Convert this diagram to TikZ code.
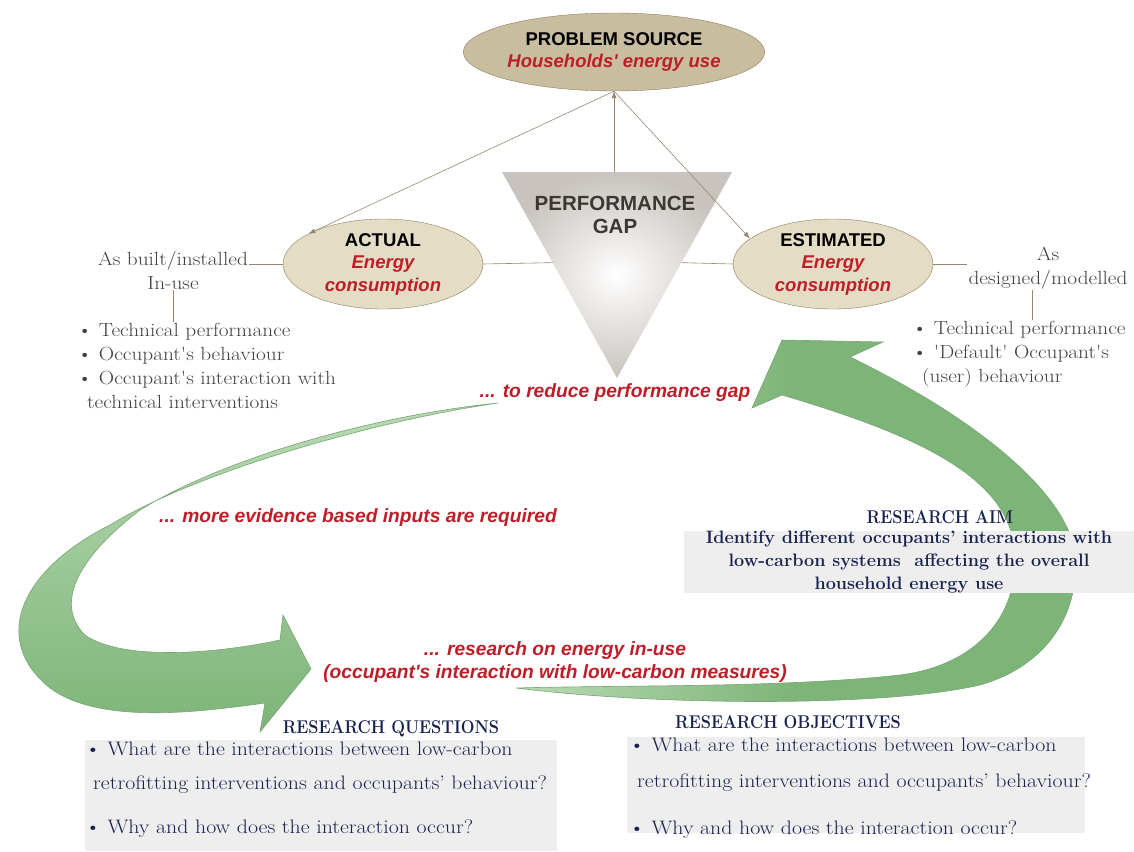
\documentclass[tikz,border=0pt]{standalone}
\usepackage{fontspec}
\newfontfamily\headfont{Liberation Sans}
\newfontfamily\bookfont{Latin Modern Roman}[FakeStretch=1.12]
\newfontfamily\titlefont{Latin Modern Roman}[FakeStretch=0.88]
\usetikzlibrary{shapes.geometric}
\usetikzlibrary{arrows.meta}
\usetikzlibrary{calc}
\definecolor{sourcetan}{RGB}{200,189,158}
\definecolor{ovaltan}{RGB}{229,220,198}
\definecolor{ovalline}{RGB}{140,125,95}
\definecolor{linkbrown}{RGB}{150,135,110}
\definecolor{labelred}{RGB}{190,30,40}
\definecolor{navy}{RGB}{25,35,80}
\definecolor{sidegray}{RGB}{65,65,65}
\definecolor{boxgray}{RGB}{238,238,238}
\definecolor{gapgray}{RGB}{200,195,190}
\definecolor{gaptext}{RGB}{60,55,50}
\definecolor{arrowlight}{RGB}{185,218,180}
\definecolor{arrowgreen}{RGB}{125,180,120}
\definecolor{arrowedge}{RGB}{120,165,115}
\newcommand{\redline}[1]{{\color{labelred}\itshape #1}}
\tikzstyle{source oval}=[ellipse, draw=ovalline, fill=sourcetan, minimum width=296pt, minimum height=78pt, inner sep=0pt, align=center, font=\headfont\bfseries\fontsize{18.5}{22.5}\selectfont]
\tikzstyle{energy oval}=[ellipse, draw=ovalline, fill=ovaltan, minimum width=200pt, minimum height=90pt, inner sep=0pt, align=center, font=\headfont\bfseries\fontsize{18.5}{22.5}\selectfont]
\tikzstyle{gap text}=[text=gaptext, align=center, font=\headfont\bfseries\fontsize{20.5}{23.5}\selectfont]
\tikzstyle{red label}=[text=labelred, align=center, inner sep=1pt, font=\headfont\bfseries\itshape\fontsize{19.2}{23}\selectfont]
\tikzstyle{link}=[draw=linkbrown, semithick, -{Latex[length=7pt,width=5pt]}]
\tikzstyle{side line}=[draw=linkbrown, semithick]
\tikzstyle{side text}=[text=sidegray, inner sep=1pt, font=\bookfont\fontsize{19}{24}\selectfont]
\tikzstyle{research title}=[text=navy, font=\titlefont\bfseries\fontsize{18.5}{22}\selectfont]
\tikzstyle{research text}=[text=navy, align=left, inner sep=0pt, font=\bookfont\fontsize{19.5}{34}\selectfont]
\tikzstyle{aim text}=[text=navy, align=center, font=\bfseries\fontsize{18}{23}\selectfont]
\tikzstyle{gray box}=[fill=boxgray, inner sep=0pt]
\tikzstyle{green arrow}=[draw=arrowedge, line width=0.6pt]

\begin{document}
\begin{tikzpicture}[x=1pt, y=-1pt]
  \useasboundingbox (0,0) rectangle (1134,851);

  % loop arrows
  \shade[green arrow, top color=arrowlight, bottom color=arrowgreen]
    (498,403) .. controls (380,420) and (200,470) .. (110,525)
    .. controls (20,570) and (-10,640) .. (50,688)
    .. controls (100,725) and (200,712) .. (265,703)
    -- (260,732) -- (311,669) -- (283,615) -- (280,640)
    .. controls (210,655) and (120,660) .. (85,635)
    .. controls (55,605) and (75,560) .. (140,510)
    .. controls (230,455) and (380,415) .. (498,403) -- cycle;
  \shade[green arrow, left color=arrowlight, right color=arrowgreen, middle color=arrowgreen]
    (516,688) .. controls (650,705) and (880,708) .. (980,685)
    .. controls (1050,665) and (1080,610) .. (1075,555)
    .. controls (1070,500) and (990,425) .. (850,357)
    -- (883,342) -- (782,340) -- (752,408) -- (782,395)
    .. controls (900,430) and (1000,470) .. (1013,540)
    .. controls (1025,610) and (980,665) .. (900,675)
    .. controls (780,688) and (620,685) .. (516,688) -- cycle;

  % performance gap
  \coordinate (gtl) at (502,172);
  \coordinate (gtr) at (732,172);
  \coordinate (gtip) at (617,378);
  \coordinate (gleft) at ($(gtl)!0.44!(gtip)$);
  \coordinate (gright) at ($(gtr)!0.44!(gtip)$);
  \shade[inner color=white, outer color=gapgray] (gtl) -- (gtr) -- (gtip) -- cycle;
  \node[gap text] (gap) at (615,215) {PERFORMANCE\\GAP};

  \node[source oval] (src) at (614,52) {PROBLEM SOURCE\\\redline{Households' energy use}};
  \node[energy oval] (act) at (383,264) {ACTUAL\\\redline{Energy}\\\redline{consumption}};
  \node[energy oval] (est) at (833,264) {ESTIMATED\\\redline{Energy}\\\redline{consumption}};

  \draw[link] (src.south |- gtl) -- (src.south);
  \draw[link] (src.south) -- (act.158);
  \draw[link] (src.south) -- (est.163);
  \draw[side line] (act.east) -- (gleft);
  \draw[side line] (gright) -- (est.west);

  \node[side text, align=center] (built) at (173,270) {As built/installed\\In-use};
  \node[side text, align=left, anchor=north west] (actlist) at (76,322) {\textbullet\ Technical performance\\\textbullet\ Occupant's behaviour\\\textbullet\ Occupant's interaction with\\\hspace*{10pt}technical interventions};
  \draw[side line] (act.west) -- (act.west -| built.east);
  \draw[side line] (built.south) -- (built.south |- actlist.north);

  \node[side text, align=center] (designed) at (1048,268) {As\\designed/modelled};
  \node[side text, align=left, anchor=north west] (estlist) at (911,320) {\textbullet\ Technical performance\\\textbullet\ 'Default' Occupant's\\\hspace*{10pt}(user) behaviour};
  \draw[side line] (est.east) -- (est.east -| designed.west);
  \draw[side line] ([xshift=-16pt]designed.south) -- ([xshift=-16pt]designed.south |- estlist.north);

  \node[red label] (reduce) at (615,393) {... to reduce performance gap};
  \node[red label] (evidence) at (358,518) {... more evidence based inputs are required};
  \node[red label] (inuse) at (555,662) {... research on energy in-use\\(occupant's interaction with low-carbon measures)};

  \node[research title] (aimtitle) at (940,517) {RESEARCH AIM};
  \node[gray box, aim text, minimum width=450pt, minimum height=59pt] (aim) at (909,562) {Identify different occupants’ interactions with\\low-carbon systems\ \ affecting the overall\\household energy use};

  \node[research title] (qtitle) at (391,729) {RESEARCH QUESTIONS};
  \node[gray box, minimum width=472pt, minimum height=111pt, anchor=north west] (qbox) at (85,740) {};
  \node[research text, anchor=north west] (qlist) at (85,742) {\textbullet\ What are the interactions between low-carbon\\\hspace*{8pt}retrofitting interventions and occupants’ behaviour?\\[10pt]\textbullet\ Why and how does the interaction occur?};

  \node[research title] (otitle) at (788,722) {RESEARCH OBJECTIVES};
  \node[gray box, minimum width=458pt, minimum height=96pt, anchor=north west] (obox) at (627,737) {};
  \node[research text, anchor=north west] (olist) at (629,738) {\textbullet\ What are the interactions between low-carbon\\[2pt]\hspace*{8pt}retrofitting interventions and occupants’ behaviour?\\[13pt]\textbullet\ Why and how does the interaction occur?};
\end{tikzpicture}
\end{document}
